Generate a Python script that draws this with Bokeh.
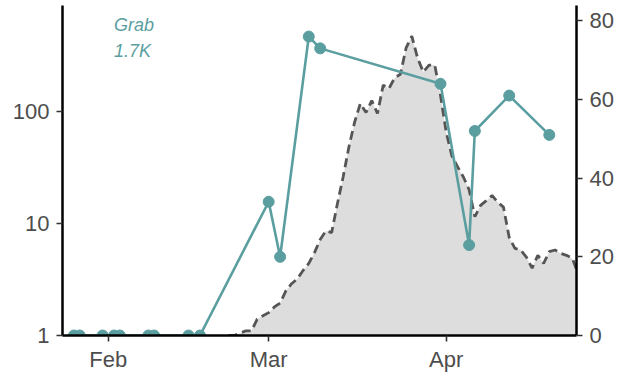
import datetime as dt
import pandas as pd
from bokeh.plotting import figure
from bokeh.models import (Range1d, LinearAxis, LinearScale, FixedTicker,
                          DatetimeTickFormatter, Label, ColumnDataSource)
from bokeh.embed import file_html
from bokeh.resources import INLINE

# ---- data ----
cases_start = "2021-02-22"
cases = [1.0, 1.0, 1.05, 1.1, 1.1, 1.4, 1.5, 1.6, 1.8, 1.95,
         2.5, 2.9, 3.2, 3.8, 4.4, 5.5, 7.2, 8.6, 8.3, 15,
         26, 48, 80, 118, 98, 125, 96, 172, 160, 200,
         215, 370, 470, 300, 225, 260, 260, 140, 65, 40,
         32, 26, 20, 11.5, 14.5, 16, 17.8, 15.5, 14, 7.5,
         6, 5.8, 5.0, 4.0, 5.2, 4.4, 5.6, 5.8, 5.4, 5.2,
         4.9, 3.6]

grab_dates = ["2021-01-26", "2021-01-27", "2021-01-31", "2021-02-02", "2021-02-03",
              "2021-02-08", "2021-02-09", "2021-02-15", "2021-02-17",
              "2021-03-01", "2021-03-03", "2021-03-08", "2021-03-10",
              "2021-03-31", "2021-04-05", "2021-04-06", "2021-04-12", "2021-04-19"]
grab_vals = [0, 0, 0, 0, 0, 0, 0, 0, 0,
             34, 20, 76, 73, 64, 23, 52, 61, 51]

month_ticks = ["2021-02-01", "2021-03-01", "2021-04-01"]
left_ticks = [1, 10, 100]
right_ticks = [0, 20, 40, 60, 80]

label_name = "Grab"
label_total = "1.7K"

TEAL = "#5b9ea0"
FONT = "Liberation Sans"

case_src = ColumnDataSource(dict(
    date=pd.date_range(cases_start, periods=len(cases), freq="D"),
    val=cases,
    base=[1.0] * len(cases)))
grab_src = ColumnDataSource(dict(date=pd.to_datetime(grab_dates), val=grab_vals))

p = figure(frame_width=514, frame_height=330,
           x_axis_type="datetime", y_axis_type="log",
           x_range=Range1d(dt.datetime(2021, 1, 24), dt.datetime(2021, 4, 23, 18)),
           y_range=Range1d(1, 884),
           output_backend="svg", toolbar_location=None,
           min_border_left=62, min_border_right=0,
           min_border_top=5, min_border_bottom=0)
p.extra_y_ranges = {"right": Range1d(0, 83.9)}
p.extra_y_scales = {"right": LinearScale()}

p.outline_line_color = None
p.xgrid.visible = False
p.ygrid.visible = False
p.background_fill_color = "white"

# grey area + dashed outline (log axis)
p.varea(x="date", y1="base", y2="val", source=case_src, fill_color="#dddddd")
p.line(x="date", y="val", source=case_src, line_color="#555555",
       line_width=2.8, line_dash="9 5")

# teal series (right axis)
p.line(x="date", y="val", source=grab_src, y_range_name="right",
       line_color=TEAL, line_width=2.6)
p.scatter(x="date", y="val", source=grab_src, y_range_name="right",
          size=11, fill_color=TEAL, line_color=TEAL)

# axes styling
def style(ax):
    ax.axis_line_color = "black"
    ax.axis_line_width = 2.5
    ax.major_tick_line_color = "#333333"
    ax.major_tick_line_width = 1.6
    ax.major_tick_out = 6
    ax.major_tick_in = 0
    ax.minor_tick_out = 0
    ax.minor_tick_in = 0
    ax.major_label_text_font = FONT
    ax.major_label_text_font_size = "22px"
    ax.major_label_text_color = "#4d4d4d"

yl = p.yaxis[0]
yl.ticker = FixedTicker(ticks=left_ticks)
yl.major_label_overrides = {t: str(t) for t in left_ticks}
yl.major_label_standoff = 7
style(yl)

yr = LinearAxis(y_range_name="right", ticker=FixedTicker(ticks=right_ticks))
yr.major_label_standoff = 7
style(yr)
p.add_layout(yr, "right")

xa = p.xaxis[0]
xa.ticker = FixedTicker(ticks=[pd.Timestamp(d).value / 1e6 for d in month_ticks])
xa.formatter = DatetimeTickFormatter(days="%b", months="%b", years="%b",
                                     hours="%b", minutes="%b", seconds="%b",
                                     milliseconds="%b", microseconds="%b",
                                     hourmin="%b", minsec="%b")
xa.major_label_standoff = 5
style(xa)

# annotation text
for txt, yv in [(label_name, 598), (label_total, 350)]:
    p.add_layout(Label(x=dt.datetime(2021, 2, 2, 0), y=yv, text=txt,
                       text_font=FONT, text_font_size="18px",
                       text_font_style="italic", text_color=TEAL,
                       text_baseline="alphabetic", text_align="left"))

open("out.html", "w").write(file_html(p, INLINE))
